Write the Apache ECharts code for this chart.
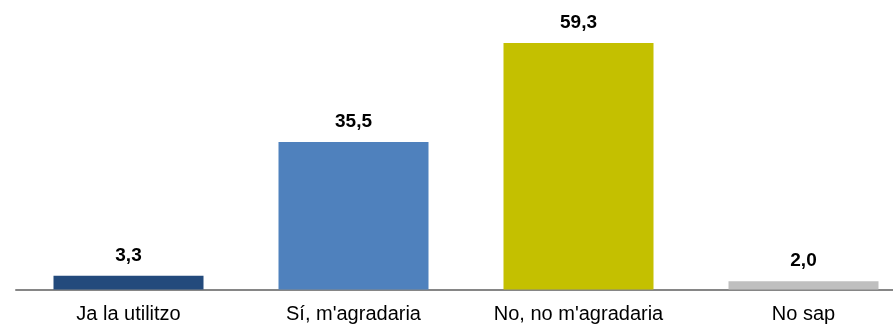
<!DOCTYPE html>
<html>
<head>
<meta charset="utf-8">
<script src="https://cdn.jsdelivr.net/npm/echarts@6/dist/echarts.min.js"></script>
<style>
html,body{margin:0;padding:0;background:#fff;overflow:hidden;width:893px;height:328px;}
#chart{width:916px;height:328px;}
</style>
</head>
<body>
<div id="chart"></div>
<script>
var categories=["Ja la utilitzo","Sí, m'agradaria","No, no m'agradaria","No sap"];
var values=[3.3,35.5,59.3,2.0];
var colors=["#234A7C","#4F81BD","#C4C000","#BFBFBF"];

var data=[];
for(var i=0;i<values.length;i++){
    data.push({value:values[i],itemStyle:{color:colors[i]}});
}
// the plot runs past the right edge of the window, so the div is wider than the page
var chart=echarts.init(document.getElementById("chart"));
chart.setOption({
    animation:false,
    grid:{left:16,right:0,top:40,bottom:38.5,containLabel:false},
    xAxis:{
        type:"category",
        data:categories,
        axisLine:{lineStyle:{color:"#868686",width:2}},
        axisTick:{show:false},
        axisLabel:{color:"#000",fontSize:20,fontFamily:"Liberation Sans, Arial",margin:15,interval:0}
    },
    yAxis:{type:"value",min:0,max:60,show:false,splitLine:{show:false}},
    series:[{
        type:"bar",
        data:data,
        barWidth:150,
        label:{
            show:true,
            position:"top",
            distance:11,
            color:"#000",
            fontSize:19,
            fontWeight:"bold",
            fontFamily:"Liberation Sans, Arial",
            formatter:function(p){return p.value.toFixed(1).replace(".",",");}
        }
    }]
});
</script>
</body>
</html>
